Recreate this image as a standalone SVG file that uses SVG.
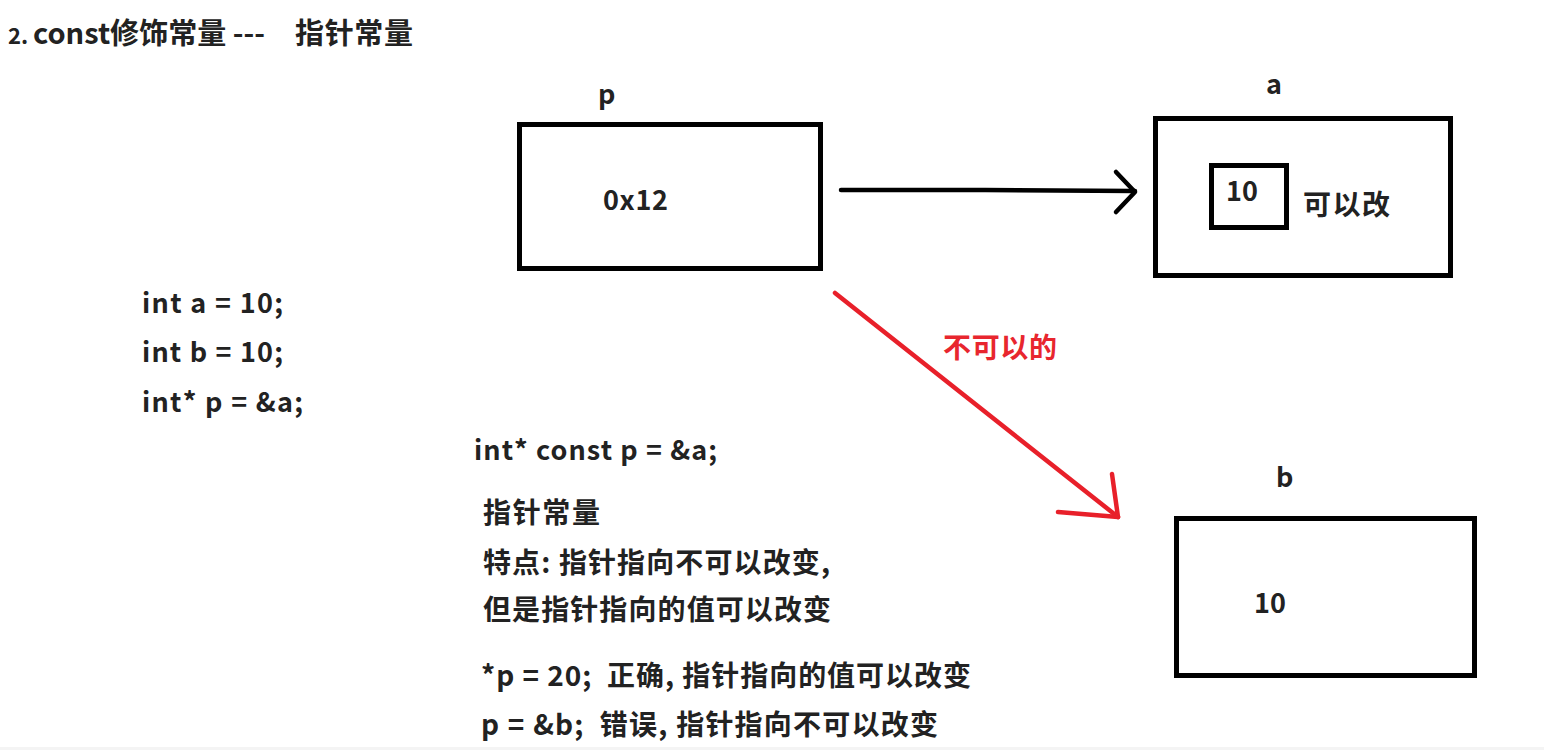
<svg xmlns="http://www.w3.org/2000/svg" width="1544" height="750" viewBox="0 0 1544 750">
<style>
  text { font-family: "Microsoft YaHei", "Noto Sans CJK SC", sans-serif; font-weight: bold; fill: #222; }
  .t { font-size: 28px; }
  .pre { white-space: pre; }
  .code { font-size: 27px; }
  .lbl { font-size: 27px; }
  .box { fill: none; stroke: #000; stroke-width: 5; }
  .blk { fill: none; stroke: #000; stroke-width: 4.5; stroke-linecap: round; stroke-linejoin: round; }
  .red { fill: none; stroke: #e8202a; stroke-width: 4.5; stroke-linecap: round; stroke-linejoin: round; }
</style>
<rect width="1544" height="750" fill="#fff"/>
<rect x="0" y="747" width="1544" height="3" fill="#f4f4f4"/>

<g id="title">
  <text x="8" y="44" font-size="22">2.</text>
  <text x="33" y="44" font-size="29" textLength="232" lengthAdjust="spacingAndGlyphs">const修饰常量 ---</text>
  <text x="295" y="44" font-size="29" textLength="118">指针常量</text>
</g>

<g id="node-p">
  <text x="598" y="104" class="lbl">p</text>
  <rect x="519.5" y="124.5" width="301" height="144" class="box"/>
  <text x="603" y="210" class="code" textLength="65">0x12</text>
</g>

<g id="node-a">
  <text x="1266" y="94" class="lbl">a</text>
  <rect x="1155.5" y="118.5" width="295" height="157" class="box"/>
  <rect x="1211.5" y="165.5" width="75" height="62" class="box"/>
  <text x="1226" y="201" class="code" textLength="32">10</text>
  <text x="1303" y="215" class="t" textLength="87">可以改</text>
</g>

<g id="node-b">
  <text x="1276" y="487" class="lbl">b</text>
  <rect x="1176.5" y="518.5" width="298" height="157" class="box"/>
  <text x="1254" y="613" class="code" textLength="32">10</text>
</g>

<g id="connectors">
  <path d="M841 190 L985 190 L1135 191" class="blk"/>
  <path d="M1116 172 L1135 192 L1116 212" class="blk"/>
  <path d="M835 293 L1118 517" class="red"/>
  <path d="M1112 474 L1118 517 L1058 512" class="red"/>
  <text x="943" y="358" class="t" style="fill:#e8262e" textLength="114">不可以的</text>
</g>

<g id="code-left">
  <text x="142" y="313" class="code" textLength="141">int a = 10;</text>
  <text x="142" y="362" class="code" textLength="141">int b = 10;</text>
  <text x="142" y="412" class="code" textLength="161">int* p = &amp;a;</text>
</g>

<g id="notes">
  <text x="474" y="460" class="code" textLength="243">int* const p = &amp;a;</text>
  <text x="483" y="523" class="t" textLength="117">指针常量</text>
  <text x="483" y="573" class="t" textLength="347">特点: 指针指向不可以改变,</text>
  <text x="483" y="620" class="t" textLength="348">但是指针指向的值可以改变</text>
  <text x="481" y="686" class="t pre" textLength="490">*p = 20;  正确, 指针指向的值可以改变</text>
  <text x="481" y="735" class="t pre" textLength="457">p = &amp;b;  错误, 指针指向不可以改变</text>
</g>
</svg>
